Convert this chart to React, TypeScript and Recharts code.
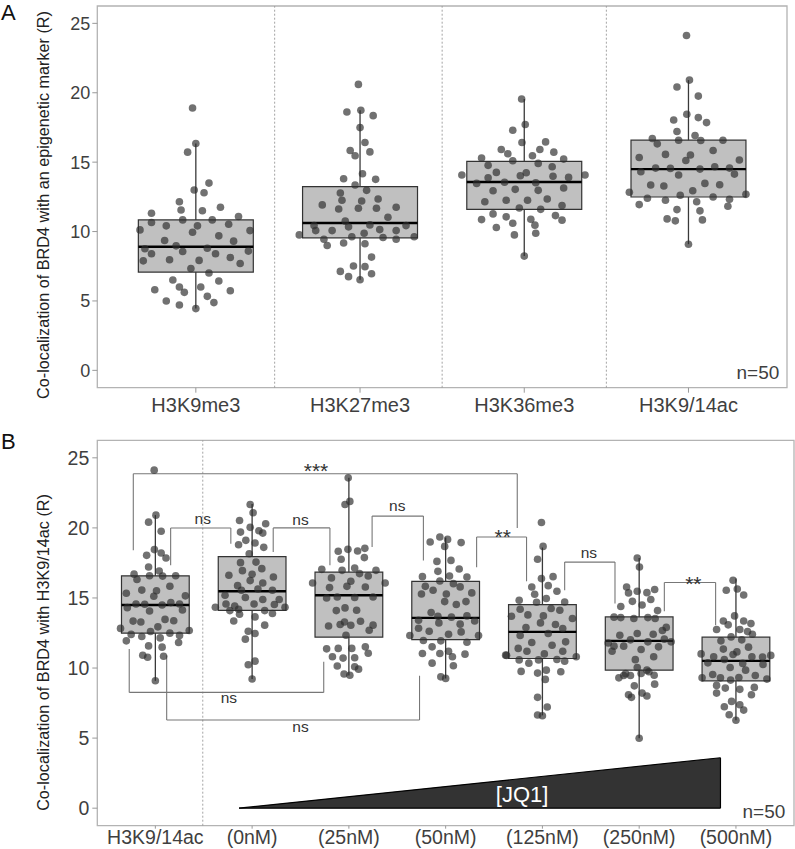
import React from 'react';
import { ComposedChart, XAxis, YAxis, Scatter, Area, ReferenceArea, ReferenceLine, Label } from 'recharts';

type Pt = [number, number]; // [horizontal jitter in category units, value]

const markerNames = ['H3K9me3', 'H3K27me3', 'H3K36me3', 'H3K9/14ac'];
const jq1Names = ['H3K9/14ac', '(0nM)', '(25nM)', '(50nM)', '(125nM)', '(250nM)', '(500nM)'];
const yTicks = [0, 5, 10, 15, 20, 25];

const h3k9me3: Pt[] = [
  [-0.02, 18.9], [0, 16.34], [-0.05, 15.72], [0.08, 13.49], [-0.01, 12.99], [0.05, 12.8], [-0.1, 12.15], [-0.09, 11.55],
  [0.04, 11.5], [0.15, 11.75], [-0.27, 11.32], [0.26, 11.08], [-0.27, 10.65], [-0.08, 10.84], [0.1, 10.84], [0.2, 10.53],
  [-0.34, 10.12], [-0.18, 10.41], [0.01, 10.41], [0.33, 10.07], [-0.02, 9.95], [0.14, 9.69], [-0.19, 9.35], [0.23, 9.31],
  [-0.12, 8.97], [-0.31, 8.76], [0.07, 8.8], [-0.27, 8.4], [-0.08, 8.56], [0.12, 8.4], [0.32, 8.59], [0.21, 8.13],
  [-0.32, 7.89], [-0.16, 7.97], [0.02, 7.92], [0.27, 7.7], [-0.03, 7.34], [0.08, 7.01], [-0.14, 6.51], [0.14, 6.44],
  [-0.25, 5.81], [-0.1, 6.0], [0.03, 6.0], [0.21, 5.74], [-0.07, 5.62], [0.07, 5.33], [-0.18, 5.0], [0.11, 4.88],
  [-0.1, 4.71], [0, 4.45],
];

const h3k27me3: Pt[] = [
  [-0.01, 20.6], [-0.08, 18.61], [0.005, 18.74], [0.08, 18.35], [0, 17.49], [0.03, 16.42], [-0.06, 15.84], [-0.03, 15.46],
  [0.06, 15.74], [0.015, 14.16], [-0.1, 13.8], [0.095, 13.76], [-0.03, 13.35], [0.04, 12.97], [-0.12, 12.78], [-0.11, 12.25],
  [0.01, 12.2], [0.11, 12.35], [-0.23, 11.92], [-0.13, 11.63], [-0.01, 11.68], [0.1, 11.68], [0.22, 11.75], [0.17, 11.03],
  [-0.09, 10.75], [-0.28, 10.43], [-0.07, 10.34], [0.06, 10.48], [0.28, 10.43], [-0.27, 10.07], [-0.17, 10.07], [0.12, 10.14],
  [0.22, 10.07], [0.025, 9.88], [-0.37, 9.76], [-0.05, 9.62], [0.14, 9.57], [0.22, 9.45], [0.33, 9.62], [-0.22, 9.45],
  [-0.2, 9.0], [-0.1, 9.17], [0.03, 9.12], [0.07, 8.16], [-0.04, 7.52], [0.03, 7.47], [-0.12, 7.13], [0.07, 6.96],
  [-0.07, 6.75], [0, 6.53],
];

const h3k36me3: Pt[] = [
  [-0.016, 19.55], [-0.07, 17.3], [0.006, 17.71], [-0.014, 16.42], [-0.14, 15.91], [-0.1, 15.6], [0.095, 15.91], [0.13, 16.46],
  [0.18, 15.72], [-0.26, 15.29], [0.05, 15.46], [-0.07, 15.1], [0.24, 15.22], [-0.22, 14.77], [0.085, 14.91], [0.17, 14.67],
  [-0.38, 14.07], [-0.17, 14.26], [0.012, 14.24], [-0.024, 14.02], [-0.22, 13.88], [0.175, 13.98], [0.27, 13.9], [0.37, 14.07],
  [-0.29, 13.47], [-0.12, 13.55], [0.07, 13.52], [0.24, 13.14], [-0.19, 12.94], [-0.055, 13.04], [0.085, 12.97], [-0.24, 12.15],
  [-0.11, 12.25], [0.02, 12.25], [0.14, 12.35], [0.23, 11.87], [-0.03, 11.7], [0.1, 11.6], [-0.19, 11.27], [-0.11, 11.06],
  [0.19, 11.15], [-0.26, 10.86], [0.04, 10.89], [0.23, 10.82], [-0.07, 10.6], [-0.17, 10.29], [0.065, 10.46], [-0.06, 9.76],
  [0.07, 9.88], [0, 8.23],
];

const h3k914ac: Pt[] = [
  [-0.012, 24.12], [0.006, 20.91], [-0.07, 20.41], [0.06, 19.76], [-0.01, 18.45], [-0.09, 18.04], [0.06, 18.21], [0.11, 17.85],
  [-0.07, 17.21], [-0.22, 16.7], [0.04, 16.92], [-0.19, 16.32], [-0.06, 16.58], [0.075, 16.56], [0.21, 16.58], [-0.3, 15.34],
  [-0.14, 15.56], [0.012, 15.51], [-0.016, 15.12], [0.15, 15.84], [0.31, 15.15], [-0.29, 14.31], [-0.2, 14.57], [-0.11, 14.55],
  [0.07, 14.5], [0.16, 14.67], [0.25, 14.57], [-0.06, 14.07], [0.28, 14.14], [-0.23, 13.35], [-0.15, 13.28], [0.1, 13.47],
  [0.19, 13.37], [-0.36, 12.83], [0.026, 12.94], [-0.05, 12.61], [0.35, 12.68], [-0.25, 12.4], [-0.14, 12.25], [0.15, 12.49],
  [0.25, 12.33], [0.05, 12.15], [-0.3, 11.94], [0.24, 11.82], [-0.07, 11.58], [0.07, 11.49], [-0.13, 10.91], [-0.08, 10.77],
  [0.085, 10.84], [0, 9.09],
];

const jq1At0nM: Pt[] = [
  [-0.02, 21.67], [0.01, 21.08], [-0.13, 20.53], [0.14, 20.3], [-0.02, 20.04], [0.07, 19.8], [0.11, 19.63], [-0.12, 19.7],
  [-0.065, 19.11], [0.03, 18.92], [-0.14, 18.8], [0.12, 18.61], [-0.03, 18.16], [-0.12, 17.52], [0.04, 17.56], [-0.1, 16.95],
  [0.1, 17.09], [-0.24, 16.62], [0, 16.69], [0.22, 16.5], [-0.02, 16.24], [-0.15, 15.88], [0.11, 16.07], [-0.11, 15.55],
  [0.06, 15.64], [0.21, 15.55], [-0.28, 15.19], [-0.07, 15.03], [0.11, 14.89], [0.28, 14.89], [-0.27, 14.57], [-0.18, 14.43],
  [0.02, 14.57], [0.23, 14.53], [-0.38, 14.34], [0.34, 14.34], [-0.23, 14.1], [-0.14, 14.2], [0.13, 14.1], [0.21, 13.89],
  [-0.13, 13.84], [0.03, 13.65], [-0.19, 13.36], [0.13, 13.06], [-0.04, 12.63], [0.03, 12.46], [-0.07, 12.06], [-0.04, 10.23],
  [0.03, 10.49], [0, 9.22],
];

const jq1At25nM: Pt[] = [
  [-0.007, 23.57], [-0.04, 21.67], [0.01, 21.89], [-0.11, 18.33], [-0.01, 18.47], [0.09, 18.35], [0.165, 18.54], [-0.08, 17.76],
  [0.16, 17.88], [-0.28, 17.04], [-0.07, 16.97], [0.06, 17.14], [0.28, 16.97], [-0.18, 16.43], [0.11, 16.74], [0.2, 16.57],
  [-0.375, 16.07], [0.02, 16.19], [0.375, 16.07], [-0.2, 15.74], [-0.02, 15.83], [0.17, 15.78], [-0.23, 15.0], [-0.12, 15.07],
  [0.06, 15.03], [0.25, 15.07], [-0.13, 14.1], [-0.04, 14.29], [0.08, 14.12], [-0.21, 13.0], [-0.09, 13.11], [0.02, 13.05],
  [0.12, 13.34], [0.21, 12.7], [-0.03, 12.34], [-0.23, 11.37], [-0.11, 11.4], [0.03, 11.4], [0.17, 11.51], [0.2, 11.06],
  [-0.17, 10.8], [-0.06, 10.71], [0.06, 10.73], [-0.12, 10.14], [0.06, 10.09], [-0.05, 9.57], [0.01, 9.49], [0.1, 9.92],
  [-0.045, 13.29], [0.25, 13.06],
];

const jq1At50nM: Pt[] = [
  [-0.16, 18.99], [-0.06, 19.35], [0.02, 19.18], [0.16, 18.95], [-0.01, 18.68], [-0.09, 17.61], [0.055, 17.68], [0.14, 17.07],
  [-0.08, 16.9], [-0.24, 16.52], [0.04, 16.57], [0.22, 16.5], [-0.06, 16.21], [-0.21, 15.83], [0.08, 16.02], [0.15, 15.79],
  [-0.13, 15.55], [-0.25, 15.28], [0.007, 15.28], [0.27, 15.36], [-0.01, 14.74], [0.11, 14.53], [0.21, 14.74], [-0.15, 13.96],
  [-0.08, 13.7], [0.06, 13.63], [0.22, 13.72], [-0.28, 13.41], [-0.07, 13.22], [0.15, 13.13], [0.3, 13.36], [-0.28, 12.84],
  [-0.17, 12.63], [0.03, 12.41], [0.16, 12.58], [-0.37, 12.32], [0.34, 12.32], [-0.23, 11.97], [-0.05, 11.94], [0.22, 11.84],
  [-0.14, 11.51], [0.03, 11.2], [-0.24, 11.04], [-0.06, 11.04], [0.2, 10.99], [0.07, 10.8], [-0.14, 10.35], [0.08, 10.16],
  [-0.05, 9.37], [0, 9.26],
];

const jq1At125nM: Pt[] = [
  [-0.01, 20.39], [0.007, 18.68], [-0.05, 17.76], [-0.01, 16.38], [0.11, 16.52], [-0.11, 15.78], [0.06, 15.88], [0.15, 15.48],
  [-0.08, 15.26], [0.04, 14.96], [-0.24, 14.84], [-0.06, 14.69], [0.23, 14.71], [-0.23, 14.2], [0.09, 14.25], [0.18, 14.12],
  [-0.32, 13.7], [-0.15, 13.79], [0.01, 13.72], [0.31, 13.53], [-0.02, 13.22], [0.135, 13.11], [-0.17, 12.89], [0.21, 12.82],
  [-0.23, 12.32], [0.06, 12.46], [-0.11, 11.82], [0.24, 11.87], [0.1, 11.63], [-0.25, 11.4], [-0.16, 11.2], [0.21, 11.2],
  [-0.37, 10.9], [0.02, 11.01], [0.35, 10.8], [-0.24, 10.58], [-0.04, 10.58], [0.15, 10.61], [0.23, 10.49], [-0.14, 10.35],
  [-0.22, 9.76], [-0.05, 9.64], [0.04, 9.85], [0.19, 9.73], [0.03, 9.19], [-0.05, 7.91], [0.05, 7.22], [-0.05, 6.65],
  [0, 6.6], [-0.38, 10.92],
];

const jq1At250nM: Pt[] = [
  [-0.02, 17.85], [0.003, 17.21], [-0.13, 15.78], [-0.02, 15.48], [0.08, 15.38], [0.16, 15.6], [-0.11, 15.36], [-0.07, 14.76],
  [0.12, 14.89], [-0.19, 14.39], [0.03, 14.5], [0.19, 14.1], [-0.26, 13.63], [-0.19, 13.6], [-0.055, 13.53], [0.09, 13.6],
  [0.165, 13.53], [0.24, 12.68], [-0.2, 12.34], [-0.02, 12.46], [0.145, 12.41], [-0.32, 11.79], [-0.26, 11.56], [-0.09, 12.01],
  [0.09, 11.87], [0.26, 12.06], [0.33, 11.87], [-0.16, 11.56], [0.02, 11.32], [0.2, 11.51], [-0.28, 11.2], [0.15, 10.8],
  [-0.02, 10.04], [0.08, 9.85], [-0.09, 9.47], [-0.16, 9.47], [-0.21, 9.3], [0.02, 9.61], [0.155, 9.49], [0.16, 8.85],
  [-0.05, 8.73], [-0.11, 8.09], [-0.08, 7.91], [0.03, 8.21], [0.08, 8.0], [0, 4.99], [-0.14, 9.6], [0.1, 9.73],
  [-0.04, 10.6], [0.28, 12.9],
];

const jq1At500nM: Pt[] = [
  [-0.03, 16.26], [-0.1, 15.55], [0.014, 15.64], [0.08, 15.21], [-0.014, 13.72], [-0.13, 13.36], [-0.08, 13.08], [0.08, 13.36],
  [0.155, 13.17], [-0.2, 12.75], [0.04, 12.75], [0.17, 12.41], [-0.05, 12.22], [-0.155, 11.94], [0.06, 12.01], [-0.13, 11.35],
  [0.13, 11.49], [0.01, 11.15], [-0.36, 11.01], [-0.23, 10.8], [-0.03, 10.97], [0.165, 10.8], [0.275, 10.78], [0.36, 10.9],
  [-0.29, 10.37], [-0.12, 10.61], [0.07, 10.33], [0.28, 10.26], [-0.06, 10.04], [0.1, 9.85], [-0.24, 9.54], [0.2, 9.47],
  [-0.35, 9.3], [-0.16, 9.3], [0.03, 9.33], [0.32, 9.21], [-0.055, 9.14], [-0.2, 8.76], [-0.11, 8.57], [0.04, 8.48],
  [0.19, 8.62], [-0.2, 8.21], [0.16, 8.09], [-0.045, 7.62], [-0.12, 7.24], [0.04, 7.38], [0.08, 7.0], [-0.07, 6.67],
  [0, 6.27], [0.12, 12.6],
];

// box statistics: [lower whisker, Q1, median, Q3, upper whisker]
const boxH3K9me3 = [4.45, 7.08, 8.9, 10.84, 16.35];
const boxH3K27me3 = [6.53, 9.55, 10.62, 13.23, 18.74];
const boxH3K36me3 = [8.23, 11.6, 13.57, 15.05, 19.55];
const boxH3K914ac = [9.09, 12.49, 14.5, 16.58, 20.91];
const box0nM = [9.22, 14.12, 15.48, 17.95, 21.7];
const box25nM = [9.47, 12.2, 15.19, 16.85, 23.57];
const box50nM = [9.26, 12.03, 13.58, 16.19, 19.32];
const box125nM = [6.62, 10.68, 12.58, 14.53, 18.6];
const box250nM = [4.99, 9.85, 11.94, 13.65, 17.85];
const box500nM = [6.27, 9.09, 10.51, 12.2, 16.38];

const panelAPoints = [h3k9me3, h3k27me3, h3k36me3, h3k914ac];
const panelABoxes = [boxH3K9me3, boxH3K27me3, boxH3K36me3, boxH3K914ac];
const panelBPoints = [h3k914ac, jq1At0nM, jq1At25nM, jq1At50nM, jq1At125nM, jq1At250nM, jq1At500nM];
const panelBBoxes = [boxH3K914ac, box0nM, box25nM, box50nM, box125nM, box250nM, box500nM];

// significance brackets (panel B): [x left, x right, bar level, left leg end, right leg end]
const sigBrackets = [
  [0.772, 4.74, 23.86, 18.4, 20.0],
  [1.158, 1.78, 19.99, 17.33, 18.87],
  [2.218, 2.804, 20.0, 18.28, 17.33],
  [3.24, 3.77, 20.84, 18.63, 17.68],
  [4.32, 4.836, 19.35, 17.2, 16.19],
  [5.23, 5.75, 17.56, 15.55, 14.6],
  [6.26, 6.79, 16.1, 14.05, 13.06],
  [0.73, 2.74, 8.26, 11.35, 10.44],
  [1.117, 3.73, 6.29, 10.92, 9.45],
];
const sigLabels = [
  { x: 2.66, y: 23.56, text: '***' },
  { x: 1.49, y: 20.3, text: 'ns' },
  { x: 2.5, y: 20.18, text: 'ns' },
  { x: 3.5, y: 21.18, text: 'ns' },
  { x: 4.59, y: 18.86, text: '**' },
  { x: 5.48, y: 17.88, text: 'ns' },
  { x: 6.56, y: 15.53, text: '**' },
  { x: 1.76, y: 7.48, text: 'ns' },
  { x: 2.5, y: 5.41, text: 'ns' },
];
const jq1Ramp = [
  { x: 1.865, ramp: 0 },
  { x: 6.84, ramp: 3.6 },
];
const jq1Label = [{ x: 4.79, y: 0.45, text: '[JQ1]' }];
const countLabelA = [{ x: 4.553, y: -0.6, text: 'n=50' }];
const countLabelB = [{ x: 7.51, y: -0.67, text: 'n=50' }];
const separatorsA = [1.48, 2.5, 3.5];
const separatorsB = [1.49];

const Y_DOMAIN: [number, number] = [-1.25, 26.25];
const FONT = '"Liberation Sans", Arial, Helvetica, sans-serif';
const BOX_HALF = 0.35;
const TICK_COLOR = '#3f3f3f';

const toScatter = (pts: Pt[], pos: number) => pts.map(([dx, v]) => ({ x: pos + dx, y: v }));

const DotShape = (props: any) =>
  props.cx == null ? null : <circle cx={props.cx} cy={props.cy} r={3.8} fill="#2d2d2d" fillOpacity={0.68} />;

const SigText = (props: any) => {
  if (props.cx == null) return null;
  const t: string = props.payload.text;
  const star = t.startsWith('*');
  return (
    <text x={props.cx} y={props.cy} textAnchor="middle" fontSize={star ? 21 : 15.5} fill="#333" fontFamily={FONT}>
      {t}
    </text>
  );
};
const CountText = (props: any) =>
  props.cx == null ? null : (
    <text x={props.cx} y={props.cy} textAnchor="end" fontSize={19} fill={TICK_COLOR} fontFamily={FONT}>
      {props.payload.text}
    </text>
  );
const RampText = (props: any) =>
  props.cx == null ? null : (
    <text x={props.cx} y={props.cy} textAnchor="middle" fontSize={22} fill="#ffffff" fontFamily={FONT}>
      {props.payload.text}
    </text>
  );

const renderBoxes = (boxes: number[][], prefix: string) =>
  boxes.map(([lo, q1, , q3, hi], i) => {
    const p = i + 1;
    return (
      <React.Fragment key={prefix + i}>
        <ReferenceLine segment={[{ x: p, y: q3 }, { x: p, y: hi }]} stroke="#3a3a3a" strokeWidth={1.3} />
        <ReferenceLine segment={[{ x: p, y: lo }, { x: p, y: q1 }]} stroke="#3a3a3a" strokeWidth={1.3} />
        <ReferenceArea
          x1={p - BOX_HALF}
          x2={p + BOX_HALF}
          y1={q1}
          y2={q3}
          fill="#2d2d2d"
          fillOpacity={0.3}
          stroke="#333"
          strokeWidth={1.2}
          strokeOpacity={1}
        />
      </React.Fragment>
    );
  });

const renderBrackets = () =>
  sigBrackets.map(([x1, x2, bar, e1, e2], i) => (
    <React.Fragment key={'br' + i}>
      <ReferenceLine segment={[{ x: x1, y: e1 }, { x: x1, y: bar }]} stroke="#777" strokeWidth={1.1} />
      <ReferenceLine segment={[{ x: x1, y: bar }, { x: x2, y: bar }]} stroke="#777" strokeWidth={1.1} />
      <ReferenceLine segment={[{ x: x2, y: bar }, { x: x2, y: e2 }]} stroke="#777" strokeWidth={1.1} />
    </React.Fragment>
  ));

const YTitle = ({ cx, cy, text }: { cx: number; cy: number; text: string }) => (
  <text
    x={cx}
    y={cy}
    transform={`rotate(-90 ${cx} ${cy})`}
    textAnchor="middle"
    dominantBaseline="central"
    fontSize={16.2}
    fill="#222"
    fontFamily={FONT}
  >
    {text}
  </text>
);

export default function App() {
  return (
    <div style={{ position: 'absolute', left: 0, top: 0, width: 795, height: 849, background: '#fff', fontFamily: FONT, overflow: 'hidden' }}>
      <div style={{ position: 'absolute', left: 0, top: 0 }}>
        <ComposedChart width={795} height={425} margin={{ top: 6, right: 8, bottom: 0, left: 57.3 }} data={[]}>
          <XAxis
            dataKey="x"
            type="number"
            domain={[0.4, 4.6]}
            ticks={[1, 2, 3, 4]}
            interval={0}
            tickFormatter={(v: number) => markerNames[v - 1]}
            height={37.3}
            axisLine={false}
            tickLine={{ stroke: '#999' }}
            tickSize={5}
            tickMargin={5}
            tick={{ fontSize: 20, fill: TICK_COLOR }}
            allowDataOverflow
          />
          <YAxis
            type="number"
            domain={Y_DOMAIN}
            ticks={yTicks}
            interval={0}
            width={40}
            axisLine={false}
            tickLine={{ stroke: '#999' }}
            tickSize={5}
            tickMargin={2}
            tick={{ fontSize: 18, fill: TICK_COLOR }}
            allowDataOverflow
          >
            <Label content={() => <YTitle cx={43.3} cy={205} text="Co-localization of BRD4 with an epigenetic marker (R)" />} />
          </YAxis>
          <ReferenceArea x1={0.4} x2={4.6} y1={Y_DOMAIN[0]} y2={Y_DOMAIN[1]} fill="none" stroke="#b3b3b3" strokeWidth={1.3} ifOverflow="visible" />
          {separatorsA.map((s) => (
            <ReferenceLine key={'sa' + s} x={s} stroke="#9a9a9a" strokeWidth={0.9} strokeDasharray="2 2" />
          ))}
          {renderBoxes(panelABoxes, 'a')}
          {panelAPoints.map((pts, i) => (
            <Scatter key={'pa' + i} data={toScatter(pts, i + 1)} dataKey="y" shape={DotShape} isAnimationActive={false} />
          ))}
          {panelABoxes.map(([, , med], i) => (
            <ReferenceLine key={'ma' + i} segment={[{ x: i + 1 - BOX_HALF, y: med }, { x: i + 1 + BOX_HALF, y: med }]} stroke="#000" strokeWidth={2.4} />
          ))}
          <Scatter data={countLabelA} dataKey="y" shape={CountText} isAnimationActive={false} />
        </ComposedChart>
      </div>
      <div style={{ position: 'absolute', left: 0, top: 425 }}>
        <ComposedChart width={795} height={424} margin={{ top: 15.3, right: 1, bottom: 0, left: 57.3 }} data={jq1Ramp}>
          <XAxis
            dataKey="x"
            type="number"
            domain={[0.4, 7.6]}
            ticks={[1, 2, 3, 4, 5, 6, 7]}
            interval={0}
            tickFormatter={(v: number) => jq1Names[v - 1]}
            height={23.3}
            axisLine={false}
            tickLine={{ stroke: '#999' }}
            tickSize={3}
            tickMargin={1.5}
            tick={{ fontSize: 19.5, fill: TICK_COLOR }}
            allowDataOverflow
          />
          <YAxis
            type="number"
            domain={Y_DOMAIN}
            ticks={yTicks}
            interval={0}
            width={40}
            axisLine={false}
            tickLine={{ stroke: '#999' }}
            tickSize={5}
            tickMargin={3}
            tick={{ fontSize: 19.5, fill: TICK_COLOR }}
            allowDataOverflow
          >
            <Label content={() => <YTitle cx={43.3} cy={227.5} text="Co-localization of BRD4 with H3K9/14ac (R)" />} />
          </YAxis>
          <ReferenceArea x1={0.4} x2={7.6} y1={Y_DOMAIN[0]} y2={Y_DOMAIN[1]} fill="none" stroke="#b3b3b3" strokeWidth={1.3} ifOverflow="visible" />
          {separatorsB.map((s) => (
            <ReferenceLine key={'sb' + s} x={s} stroke="#9a9a9a" strokeWidth={0.9} strokeDasharray="2 2" />
          ))}
          <Area
            dataKey="ramp"
            type="linear"
            baseValue={0}
            fill="#333"
            fillOpacity={1}
            stroke="#000"
            strokeWidth={1.2}
            isAnimationActive={false}
            dot={false}
            activeDot={false}
          />
          <ReferenceLine segment={[{ x: jq1Ramp[1].x, y: 0 }, { x: jq1Ramp[1].x, y: jq1Ramp[1].ramp }]} stroke="#000" strokeWidth={1.2} />
          <ReferenceLine segment={[{ x: jq1Ramp[0].x, y: 0 }, { x: jq1Ramp[1].x, y: 0 }]} stroke="#000" strokeWidth={1.2} />
          {renderBrackets()}
          {renderBoxes(panelBBoxes, 'b')}
          {panelBPoints.map((pts, i) => (
            <Scatter key={'pb' + i} data={toScatter(pts, i + 1)} dataKey="y" shape={DotShape} isAnimationActive={false} />
          ))}
          {panelBBoxes.map(([, , med], i) => (
            <ReferenceLine key={'mb' + i} segment={[{ x: i + 1 - BOX_HALF, y: med }, { x: i + 1 + BOX_HALF, y: med }]} stroke="#000" strokeWidth={2.4} />
          ))}
          <Scatter data={sigLabels} dataKey="y" shape={SigText} isAnimationActive={false} />
          <Scatter data={jq1Label} dataKey="y" shape={RampText} isAnimationActive={false} />
          <Scatter data={countLabelB} dataKey="y" shape={CountText} isAnimationActive={false} />
        </ComposedChart>
      </div>
      <div style={{ position: 'absolute', left: 1, top: 0, fontSize: 22, color: '#111', lineHeight: '25px' }}>A</div>
      <div style={{ position: 'absolute', left: 1, top: 429, fontSize: 22, color: '#111', lineHeight: '25px' }}>B</div>
    </div>
  );
}
